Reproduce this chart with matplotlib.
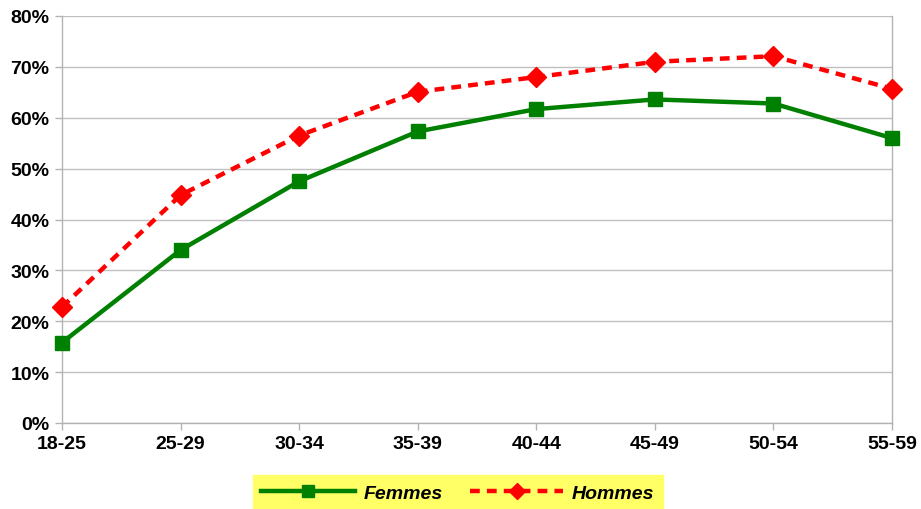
import matplotlib
matplotlib.use("Agg")
import matplotlib.pyplot as plt
from matplotlib.ticker import FuncFormatter

categories = ["18-25", "25-29", "30-34", "35-39", "40-44", "45-49", "50-54", "55-59"]
femmes = [15.8, 34.0, 47.5, 57.3, 61.7, 63.6, 62.8, 56.0]
hommes = [22.8, 44.8, 56.5, 65.1, 68.0, 71.0, 72.1, 65.7]
yticks = [0, 10, 20, 30, 40, 50, 60, 70, 80]

plt.rcParams['font.family'] = ['Liberation Sans', 'DejaVu Sans']

fig = plt.figure(figsize=(9.21, 5.10), dpi=100)
ax = fig.add_axes([62/921, 86/510, (892-62)/921, (424-17)/510])

x = list(range(len(categories)))
ax.plot(x, femmes, color='#008000', linewidth=3.2, marker='s', markersize=10.5,
        label='Femmes', zorder=3, clip_on=False)
ax.plot(x, hommes, color='#FF0000', linewidth=3.2, linestyle=(0, (2.2, 1.6)), marker='D',
        markersize=10, label='Hommes', zorder=4, clip_on=False)

ax.set_xlim(0, len(categories) - 1)
ax.set_ylim(0, 80)
ax.set_xticks(x)
ax.set_xticklabels(categories)
ax.set_yticks(yticks)
ax.yaxis.set_major_formatter(FuncFormatter(lambda v, p: f"{int(v)}%"))
ax.grid(axis='y', color='#C0C0C0', linewidth=1)
ax.set_axisbelow(True)
for s in ['left', 'bottom', 'right']:
    ax.spines[s].set_color('#B3B3B3')
    ax.spines[s].set_linewidth(1)
ax.spines['top'].set_visible(False)
ax.tick_params(axis='both', colors='#B3B3B3', length=5, width=1, labelcolor='black',
               labelsize=14, pad=4)
for lbl in ax.get_xticklabels() + ax.get_yticklabels():
    lbl.set_fontweight('bold')

leg = fig.legend(loc='center', bbox_to_anchor=(458/921, 1 - 494/510), ncol=2,
                 frameon=True, fancybox=False, handlelength=4.8, columnspacing=1.4,
                 prop={'weight': 'bold', 'style': 'italic', 'size': 14},
                 borderpad=0.45, handletextpad=0.45, markerscale=0.85)
leg.get_frame().set_facecolor('#FFFF66')
leg.get_frame().set_edgecolor('#FFFF66')
leg.get_frame().set_alpha(1)

fig.savefig('out.png', dpi=100)
